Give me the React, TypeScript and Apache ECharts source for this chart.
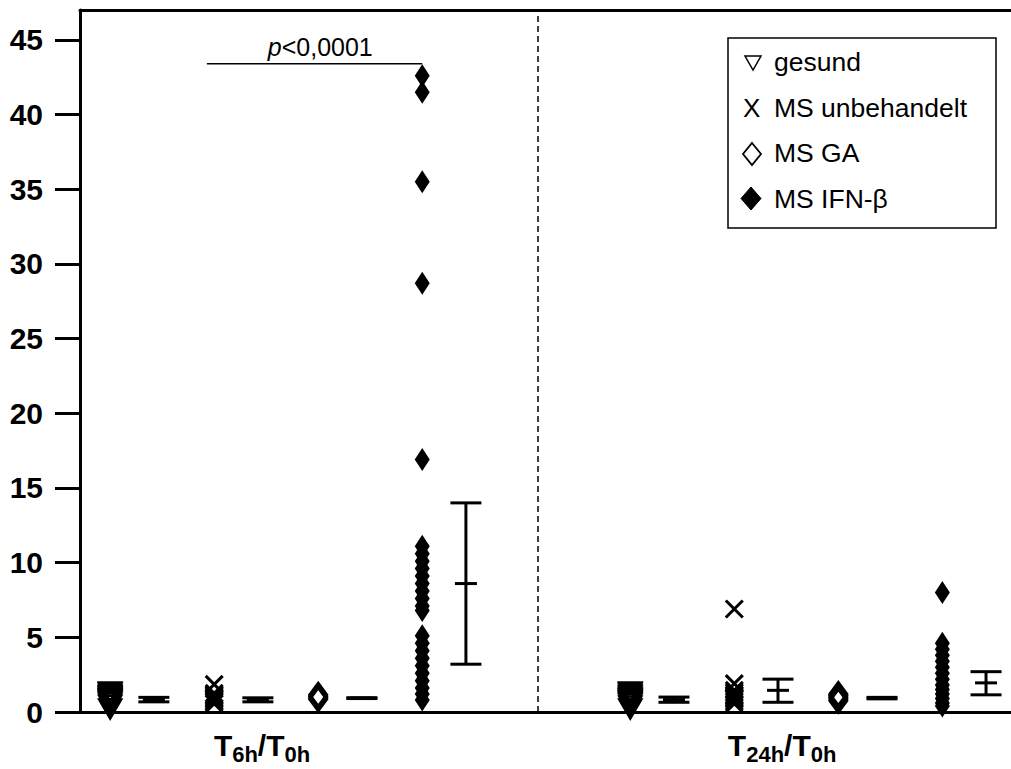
import React, { useEffect, useRef } from 'react';
import * as echarts from 'echarts';

// ---------- data ----------
const timepoints = [
  ['6h', '0h'],
  ['24h', '0h'],
];
const groupNames = ['gesund', 'MS unbehandelt', 'MS GA', 'MS IFN-β'];
const yTicks = [0, 5, 10, 15, 20, 25, 30, 35, 40, 45];

const gesund6h = [0.2, 0.45, 0.6, 0.7, 0.75, 0.8, 0.85, 0.9, 0.95, 1.0, 1.05, 1.1, 1.2, 1.3, 1.35];
const gesund24h = [0.2, 0.4, 0.55, 0.65, 0.7, 0.75, 0.8, 0.85, 0.9, 0.95, 1.0, 1.1, 1.2, 1.3, 1.35];
const unbeh6h = [0.55, 0.65, 0.75, 0.85, 0.95, 1.05, 1.15, 1.25, 1.85];
const unbeh24h = [0.55, 0.7, 0.85, 0.95, 1.05, 1.15, 1.3, 1.45, 1.9, 6.9];
const ga6h = [0.85, 0.95, 1.05, 1.15];
const ga24h = [0.75, 0.88, 1.0, 1.1, 1.2];
const ifn6h = [42.6, 41.5, 35.5, 28.7, 16.9, 11.1, 10.6, 10.1, 9.6, 9.1, 8.6, 8.1, 7.6, 7.1, 6.8, 5.1, 4.6, 4.1, 3.6, 3.1, 2.6, 2.1, 1.6, 1.2, 0.8];
const ifn24h = [8.0, 4.6, 4.2, 3.8, 3.4, 3.0, 2.6, 2.2, 1.8, 1.5, 1.2, 0.9, 0.6, 0.4];

// mean, lower, upper (per group: gesund, unbehandelt, GA, IFN)
const means6h = [0.83, 0.82, 0.93, 8.6];
const lows6h = [0.68, 0.68, 0.9, 3.2];
const highs6h = [0.98, 0.95, 0.96, 14.0];
const means24h = [0.83, 1.45, 0.93, 1.95];
const lows24h = [0.65, 0.65, 0.88, 1.15];
const highs24h = [1.0, 2.2, 0.98, 2.7];

const pValueText = ['p', '<0,0001'];
const pValueLevel = 43.4;

// ---------- layout (axis units) ----------
const groupBase = [0, 50];
const columnStep = 10;
const pointOffset = 2.9;
const summaryOffset = 7.1;
const labelOffset = 17.5;
const separatorX = 44;
const xMax = 89.5;
const yMax = 47;

const pointsByGroup = [
  [gesund6h, gesund24h],
  [unbeh6h, unbeh24h],
  [ga6h, ga24h],
  [ifn6h, ifn24h],
];

const FONT = 'Liberation Sans, Arial, Helvetica, sans-serif';

export default function App() {
  const ref = useRef<HTMLDivElement>(null);

  useEffect(() => {
    if (!ref.current) return;
    const chart = echarts.init(ref.current, undefined, { renderer: 'svg' });

    const symbolStyles: any[] = [
      {
        symbol: 'path://M0,0L20,0L10,18Z',
        symbolSize: [22, 19],
        itemStyle: { color: 'rgba(0,0,0,0)', borderColor: '#000', borderWidth: 2.5, opacity: 1 },
      },
      {
        symbol: 'path://M0,0L10,10M10,0L0,10',
        symbolSize: 17,
        itemStyle: { color: 'rgba(0,0,0,0)', borderColor: '#000', borderWidth: 3, opacity: 1 },
      },
      {
        symbol: 'diamond',
        symbolSize: [17, 23],
        itemStyle: { color: 'rgba(0,0,0,0)', borderColor: '#000', borderWidth: 3, opacity: 1 },
      },
      {
        symbol: 'diamond',
        symbolSize: [15, 23],
        itemStyle: { color: '#000', borderWidth: 0, opacity: 1 },
      },
    ];

    const scatterSeries = groupNames.map((name, gi) => {
      const data: number[][] = [];
      timepoints.forEach((_, ti) => {
        const x = groupBase[ti] + pointOffset + gi * columnStep;
        pointsByGroup[gi][ti].forEach((v) => data.push([x, v]));
      });
      return {
        type: 'scatter',
        name,
        data,
        clip: false,
        silent: true,
        z: 3,
        ...symbolStyles[gi],
      };
    });

    const summaryData: number[][] = [];
    [
      [means6h, lows6h, highs6h],
      [means24h, lows24h, highs24h],
    ].forEach(([m, lo, hi], ti) => {
      m.forEach((_, gi) => {
        summaryData.push([groupBase[ti] + summaryOffset + gi * columnStep, m[gi], lo[gi], hi[gi]]);
      });
    });

    const option: any = {
      animation: false,
      backgroundColor: '#fff',
      grid: { left: 80, right: 0, top: 10, bottom: 57 },
      xAxis: [
        {
          type: 'value',
          min: 0,
          max: xMax,
          position: 'bottom',
          splitLine: { show: false },
          axisLine: { show: true, onZero: false, lineStyle: { color: '#000', width: 3 } },
          axisTick: { show: false },
          axisLabel: {
            customValues: timepoints.map((_, i) => groupBase[i] + labelOffset),
            margin: 13,
            formatter: (val: number) => {
              const i = Math.abs(val - (groupBase[0] + labelOffset)) < 1 ? 0 : 1;
              const [a, b] = timepoints[i];
              return `{b|T}{s|${a}}{b|/T}{s|${b}}`;
            },
            rich: {
              b: { fontSize: 30, fontWeight: 'bold', fontFamily: FONT, color: '#000', verticalAlign: 'middle' },
              s: {
                fontSize: 22,
                fontWeight: 'bold',
                fontFamily: FONT,
                color: '#000',
                verticalAlign: 'middle',
                padding: [18, 0, 0, 0],
              },
            },
          },
        },
        {
          type: 'value',
          min: 0,
          max: xMax,
          position: 'top',
          splitLine: { show: false },
          axisLine: { show: true, onZero: false, lineStyle: { color: '#000', width: 3 } },
          axisTick: { show: false },
          axisLabel: { show: false },
        },
      ],
      yAxis: {
        type: 'value',
        min: 0,
        max: yMax,
        interval: 5,
        splitLine: { show: false },
        axisLine: { show: true, lineStyle: { color: '#000', width: 3 } },
        axisTick: { show: true, customValues: yTicks, length: 25, lineStyle: { color: '#000', width: 3 } },
        axisLabel: {
          customValues: yTicks,
          margin: 37,
          fontSize: 30,
          fontWeight: 'bold',
          fontFamily: FONT,
          color: '#000',
        },
      },
      series: [
        ...scatterSeries,
        {
          type: 'custom',
          name: 'summary',
          silent: true,
          z: 4,
          data: summaryData,
          encode: { x: 0, y: [1, 2, 3] },
          renderItem: (params: any, api: any) => {
            const x = api.value(0);
            const pm = api.coord([x, api.value(1)]);
            const pl = api.coord([x, api.value(2)]);
            const ph = api.coord([x, api.value(3)]);
            const cap = 15.5;
            const tick = 11;
            const style = { stroke: '#000', lineWidth: 3, fill: 'none' };
            return {
              type: 'group',
              children: [
                { type: 'line', shape: { x1: pl[0], y1: pl[1], x2: ph[0], y2: ph[1] }, style },
                { type: 'line', shape: { x1: pl[0] - cap, y1: pl[1], x2: pl[0] + cap, y2: pl[1] }, style },
                { type: 'line', shape: { x1: ph[0] - cap, y1: ph[1], x2: ph[0] + cap, y2: ph[1] }, style },
                { type: 'line', shape: { x1: pm[0] - tick, y1: pm[1], x2: pm[0] + tick, y2: pm[1] }, style },
              ],
            };
          },
        },
        {
          type: 'line',
          name: 'p-bracket',
          silent: true,
          symbol: 'none',
          z: 2,
          lineStyle: { color: '#000', width: 1.5 },
          data: [
            [groupBase[0] + pointOffset + 1 * columnStep - 0.7, pValueLevel],
            [groupBase[0] + pointOffset + 3 * columnStep, pValueLevel],
          ],
          markLine: {
            silent: true,
            symbol: 'none',
            label: { show: false },
            lineStyle: { color: '#000', width: 1.5, type: [6, 4] },
            data: [{ xAxis: separatorX }],
          },
        },
        {
          type: 'scatter',
          name: 'p-label',
          silent: true,
          symbolSize: 0,
          itemStyle: { opacity: 1 },
          data: [[groupBase[0] + pointOffset + 2 * columnStep + 0.2, pValueLevel]],
          label: {
            show: true,
            position: 'top',
            distance: 4,
            color: '#000',
            opacity: 1,
            formatter: `{i|${pValueText[0]}}{n|${pValueText[1]}}`,
            rich: {
              i: { fontSize: 25, fontStyle: 'italic', fontFamily: FONT, color: '#000' },
              n: { fontSize: 25, fontFamily: FONT, color: '#000' },
            },
          },
        },
      ],
      graphic: [
        {
          type: 'rect',
          shape: { x: 728, y: 38, width: 268, height: 190 },
          style: { fill: '#fff', stroke: '#000', lineWidth: 1.5 },
          z: 10,
        },
        {
          type: 'polygon',
          shape: { points: [[745, 56], [761, 56], [753, 70]] },
          style: { fill: 'none', stroke: '#000', lineWidth: 1.5 },
          z: 11,
        },
        {
          type: 'text',
          x: 743,
          y: 108,
          style: { text: 'X', fontSize: 26, fontFamily: FONT, fill: '#000', verticalAlign: 'middle' },
          z: 11,
        },
        {
          type: 'polygon',
          shape: { points: [[752, 143], [761, 154], [752, 165], [743, 154]] },
          style: { fill: 'none', stroke: '#000', lineWidth: 1.8 },
          z: 11,
        },
        {
          type: 'polygon',
          shape: { points: [[751, 187], [761, 198.5], [751, 210], [741, 198.5]] },
          style: { fill: '#000', stroke: '#000', lineWidth: 1 },
          z: 11,
        },
        ...groupNames.map((n, i) => ({
          type: 'text',
          x: 774,
          y: 62 + i * 45.5,
          style: { text: n, fontSize: 26.5, fontFamily: FONT, fill: '#000', verticalAlign: 'middle' },
          z: 11,
        })),
      ],
    };

    chart.setOption(option);
    return () => chart.dispose();
  }, []);

  return (
    <div
      ref={ref}
      style={{ position: 'fixed', left: 0, top: 0, width: 1011, height: 769, background: '#fff' }}
    />
  );
}
